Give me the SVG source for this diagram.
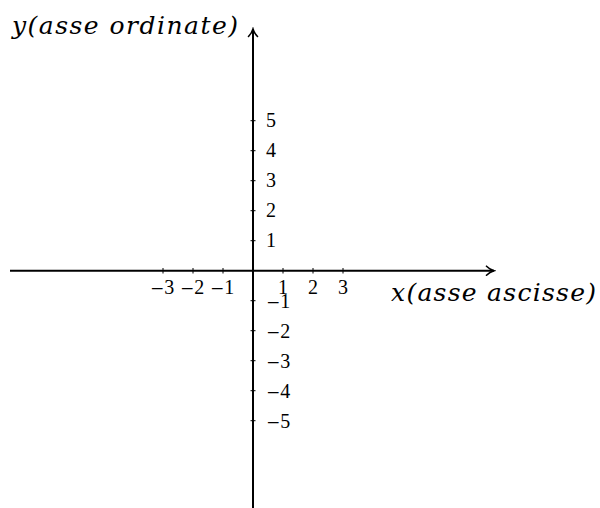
<svg xmlns="http://www.w3.org/2000/svg" width="600" height="508" viewBox="0 0 600 508">
<style>
.axis{stroke:#000;stroke-width:2;fill:none}
.tick{stroke:#000;stroke-width:1;fill:none}
.num{font-family:"Liberation Serif",serif;font-size:20px;fill:#000}
.m{font-family:"DejaVu Serif",serif;font-size:17px}
.title{font-family:"DejaVu Serif",serif;font-style:italic;font-size:25px;fill:#000}
</style>
<defs>
<marker id="arr" viewBox="-10 -7 12 14" refX="0" refY="0" markerWidth="12" markerHeight="14" markerUnits="userSpaceOnUse" orient="auto">
<path d="M -7.5,-4.5 C -5,-2 -2,-0.6 0,0 C -2,0.6 -5,2 -7.5,4.5" stroke="#000" stroke-width="1.6" fill="none" stroke-linecap="round"/>
</marker>
</defs>
<rect width="600" height="508" fill="#fff"/>
<g id="connectors">
<line class="axis" x1="10" y1="270.7" x2="494" y2="270.7" marker-end="url(#arr)"/>
<line class="axis" x1="253" y1="508" x2="253" y2="29" marker-end="url(#arr)"/>
</g>
<g id="ticks" class="tick">
<line x1="163" y1="268" x2="163" y2="273.5"/>
<line x1="193" y1="268" x2="193" y2="273.5"/>
<line x1="223" y1="268" x2="223" y2="273.5"/>
<line x1="283" y1="268" x2="283" y2="273.5"/>
<line x1="313" y1="268" x2="313" y2="273.5"/>
<line x1="343" y1="268" x2="343" y2="273.5"/>
<line x1="250.5" y1="120.7" x2="255.5" y2="120.7"/>
<line x1="250.5" y1="150.7" x2="255.5" y2="150.7"/>
<line x1="250.5" y1="180.7" x2="255.5" y2="180.7"/>
<line x1="250.5" y1="210.7" x2="255.5" y2="210.7"/>
<line x1="250.5" y1="240.7" x2="255.5" y2="240.7"/>
<line x1="250.5" y1="300.7" x2="255.5" y2="300.7"/>
<line x1="250.5" y1="330.7" x2="255.5" y2="330.7"/>
<line x1="250.5" y1="360.7" x2="255.5" y2="360.7"/>
<line x1="250.5" y1="390.7" x2="255.5" y2="390.7"/>
<line x1="250.5" y1="420.7" x2="255.5" y2="420.7"/>
</g>
<g id="x-labels" class="num" text-anchor="middle">
<text x="162" y="294"><tspan class="m">−</tspan>3</text>
<text x="192" y="294"><tspan class="m">−</tspan>2</text>
<text x="222" y="294"><tspan class="m">−</tspan>1</text>
<text x="283" y="294">1</text>
<text x="313" y="294">2</text>
<text x="343" y="294">3</text>
</g>
<g id="y-labels" class="num">
<text x="266" y="127">5</text>
<text x="266" y="157">4</text>
<text x="266" y="187">3</text>
<text x="266" y="217">2</text>
<text x="266" y="247">1</text>
<text x="266" y="307.5"><tspan class="m">−</tspan>1</text>
<text x="266" y="337.5"><tspan class="m">−</tspan>2</text>
<text x="266" y="367.5"><tspan class="m">−</tspan>3</text>
<text x="266" y="397.5"><tspan class="m">−</tspan>4</text>
<text x="266" y="427.5"><tspan class="m">−</tspan>5</text>
</g>
<g id="y-title">
<text class="title" x="12" y="34" textLength="226" lengthAdjust="spacing">y(asse ordinate)</text>
</g>
<g id="x-title">
<text class="title" x="391" y="301" textLength="205" lengthAdjust="spacing">x(asse ascisse)</text>
</g>
</svg>
